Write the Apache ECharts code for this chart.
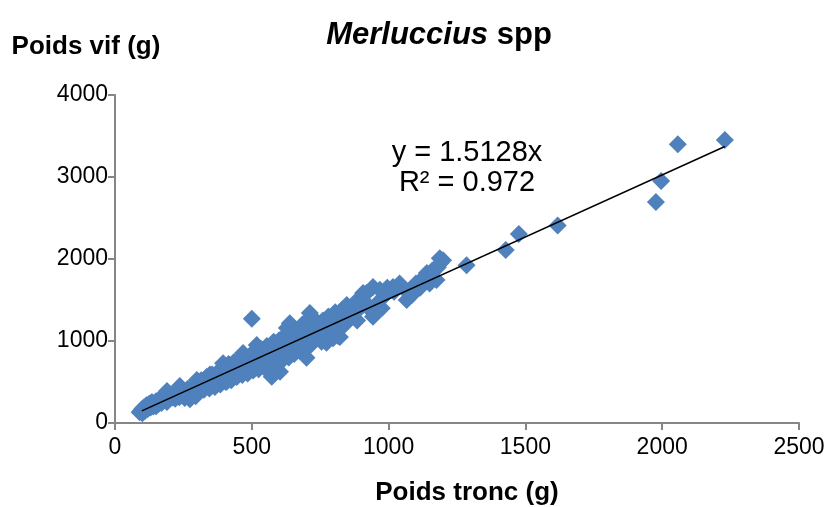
<!DOCTYPE html>
<html>
<head>
<meta charset="utf-8">
<script src="https://cdn.jsdelivr.net/npm/echarts@6/dist/echarts.min.js"></script>
<style>html,body{margin:0;padding:0;background:#fff;}#c{width:831px;height:507px;}</style>
</head>
<body>
<div id="c"></div>
<script>
// Poids tronc (g) vs Poids vif (g)
const points = [
[90,130],[95,150],[100,120],[100,175],[105,190],[110,150],[115,215],[120,170],[125,235],[130,190],[135,255],[138,225],[140,200],[145,235],[150,265],[150,205],[160,285],[160,235],[170,305],[170,245],[175,265],[180,325],[185,275],[190,390],[190,255],[195,305],[200,340],[200,320],[210,310],[215,365],[220,295],[225,335],[230,375],[237,450],[235,315],[240,355],[245,395],[250,335],[255,305],[260,385],[265,415],[270,345],[274,290],[280,405],[285,445],[290,365],[295,325],[299,525],[300,420],[300,460],
[305,385],[310,470],[315,520],[320,430],[325,405],[330,500],[335,560],[340,460],[345,420],[347,590],[350,530],[355,590],[360,480],[365,440],[370,560],[375,620],[380,520],[385,470],[390,600],[395,730],[400,540],[405,500],[409,505],[410,640],[415,720],[420,580],[425,520],[430,660],[435,745],[440,600],[445,560],[450,690],[455,775],[460,620],[465,585],[468,855],[470,720],[475,800],[480,650],[485,605],[490,760],[495,830],[500,680],[505,640],[510,780],[515,880],[518,950],[520,700],[525,655],
[530,820],[535,900],[540,740],[545,680],[550,850],[555,940],[560,760],[565,700],[573,565],[575,880],[580,990],[585,800],[590,740],[595,920],[603,625],[600,1010],[605,840],[610,760],[615,955],[620,1060],[625,880],[628,1160],[635,800],[639,1215],[640,980],[645,1100],[650,900],[655,840],[660,1020],[665,1120],[670,940],[675,880],[680,1060],[685,1200],[690,980],[700,795],[700,1100],[705,1260],[712,1340],[710,1020],[715,950],[720,1150],[724,1280],[730,1060],
[740,1200],[750,1100],[755,990],[760,1250],[770,1150],[773,980],[780,1300],[790,1200],[797,1035],[800,1120],[805,1350],[815,1060],[822,1050],[820,1250],[830,1380],[840,1200],[847,1440],[860,1300],[870,1350],[880,1480],[885,1250],[895,1400],[900,1500],
[907,1585],[920,1585],[930,1420],[943,1345],[943,1295],[943,1660],[955,1450],[968,1625],[975,1400],[985,1550],[995,1650],[1016,1660],[1020,1600],[1040,1700],[1055,1640],[1066,1500],[1077,1620],[1085,1560],[1100,1700],[1115,1650],[1130,1780],[1140,1830],[1150,1700],[1160,1860],[1175,1745],[1180,1900],[1190,1950],[1199,1985],[1187,2010],
[500,1270],[1285,1925],[1428,2110],[1476,2305],[1618,2410],[1977,2695],[1996,2950],[2057,3400],[2229,3450]
];
const slope = 1.5128;
const r2 = 0.972;
const trendX = [98, 2229];
const xTicks = [0, 500, 1000, 1500, 2000, 2500];
const yTicks = [0, 1000, 2000, 3000, 4000];
const titleMain = 'Merluccius';
const titleRest = ' spp';
const xName = 'Poids tronc (g)';
const yName = 'Poids vif (g)';

const FONT = '"Liberation Sans", Arial, sans-serif';
const chart = echarts.init(document.getElementById('c'), null, {renderer: 'canvas'});
const trend = trendX.map(x => [x, slope * x]);
const axisCommon = {
  axisLine: {show: true, onZero: false, lineStyle: {color: '#868686', width: 2}},
  axisTick: {show: true, inside: false, length: 7, lineStyle: {color: '#868686', width: 2}},
  splitLine: {show: false},
  axisLabel: {color: '#000', fontFamily: FONT, fontSize: 23, formatter: v => String(v)}
};
chart.setOption({
  animation: false,
  backgroundColor: '#fff',
  title: {
    text: '{i|' + titleMain + '}{b|' + titleRest + '}',
    left: 434, top: 15, textAlign: 'center',
    textStyle: {rich: {
      i: {fontFamily: FONT, fontSize: 31, fontWeight: 'bold', fontStyle: 'italic', color: '#000'},
      b: {fontFamily: FONT, fontSize: 31, fontWeight: 'bold', color: '#000'}
    }}
  },
  grid: {left: 115, right: 32, top: 95, bottom: 84, containLabel: false, outerBoundsMode: 'none'},
  xAxis: Object.assign({}, axisCommon, {
    type: 'value', min: xTicks[0], max: xTicks[xTicks.length - 1], interval: 500,
    axisLabel: Object.assign({}, axisCommon.axisLabel, {margin: 13}),
    name: xName, nameLocation: 'middle', nameGap: 57,
    nameTextStyle: {fontFamily: FONT, fontSize: 26, fontWeight: 'bold', color: '#000', padding: [0, 0, 0, 20]}
  }),
  yAxis: Object.assign({}, axisCommon, {
    type: 'value', min: yTicks[0], max: yTicks[yTicks.length - 1], interval: 1000,
    axisLabel: Object.assign({}, axisCommon.axisLabel, {margin: 7})
  }),
  graphic: [
    {type: 'text', x: 86, y: 47, style: {text: yName, font: 'bold 26px ' + FONT, fill: '#000', textAlign: 'center', textVerticalAlign: 'middle'}},
    {type: 'text', x: 467, y: 153, style: {text: 'y = ' + slope.toFixed(4) + 'x', font: '29px ' + FONT, fill: '#000', textAlign: 'center', textVerticalAlign: 'middle'}},
    {type: 'text', x: 467, y: 183, style: {text: 'R² = ' + r2, font: '29px ' + FONT, fill: '#000', textAlign: 'center', textVerticalAlign: 'middle'}}
  ],
  series: [
    {type: 'scatter', data: points, symbol: 'diamond', symbolSize: 18,
     itemStyle: {color: '#4F81BD', opacity: 1}, z: 2},
    {type: 'line', data: trend, showSymbol: false, symbol: 'none',
     lineStyle: {color: '#000', width: 1.5}, z: 3}
  ]
});
</script>
</body>
</html>
